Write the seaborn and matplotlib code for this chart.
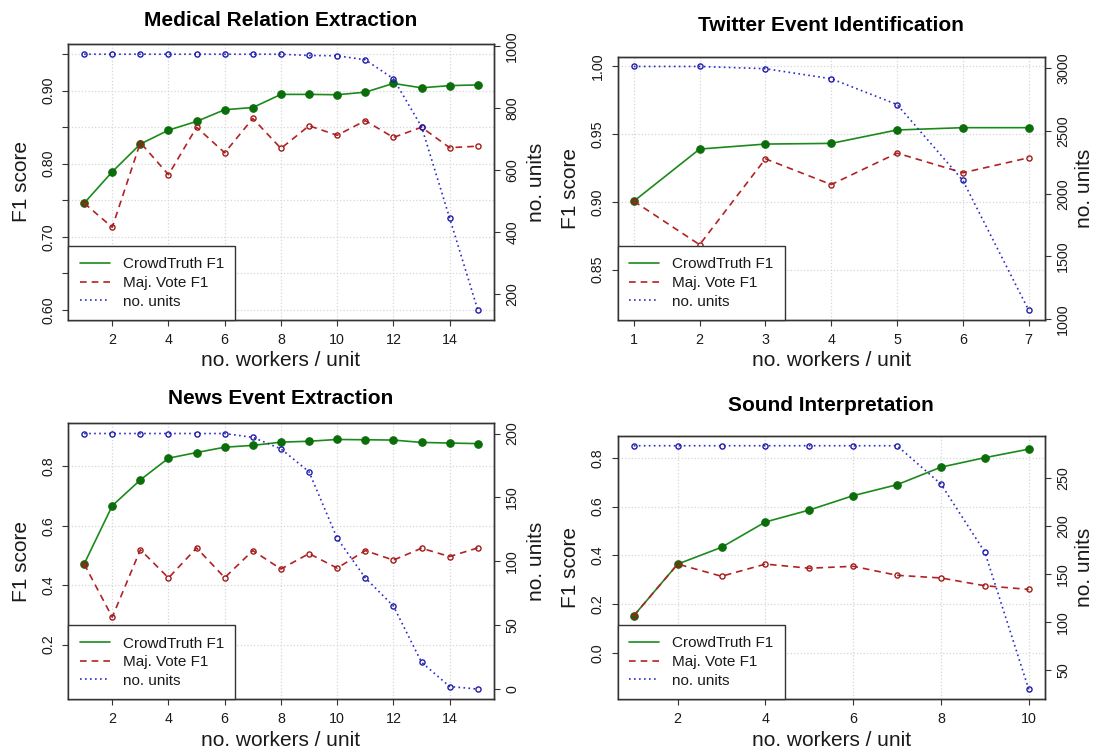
import numpy as np
import matplotlib
matplotlib.use("Agg")
import matplotlib.pyplot as plt
import seaborn as sns
from matplotlib.lines import Line2D

# ---------------- data ----------------
x_med = [1, 2, 3, 4, 5, 6, 7, 8, 9, 10, 11, 12, 13, 14, 15]
ct_med = [0.746, 0.789, 0.827, 0.846, 0.858, 0.874, 0.877, 0.895, 0.895, 0.8945, 0.898, 0.910, 0.904, 0.907, 0.908]
mv_med = [0.746, 0.713, 0.829, 0.785, 0.850, 0.815, 0.862, 0.821, 0.852, 0.839, 0.859, 0.836, 0.850, 0.822, 0.824]
units_med = [975, 975, 975, 975, 975, 975, 975, 975, 971, 970, 957, 896, 741, 446, 150]

x_tw = [1, 2, 3, 4, 5, 6, 7]
ct_tw = [0.9005, 0.939, 0.9427, 0.9432, 0.9531, 0.9548, 0.9548]
mv_tw = [0.9005, 0.8684, 0.9318, 0.9128, 0.936, 0.9215, 0.9326]
units_tw = [3013, 3013, 2995, 2915, 2710, 2105, 1072]

x_news = [1, 2, 3, 4, 5, 6, 7, 8, 9, 10, 11, 12, 13, 14, 15]
ct_news = [0.471, 0.667, 0.754, 0.827, 0.846, 0.864, 0.870, 0.881, 0.884, 0.890, 0.889, 0.888, 0.880, 0.878, 0.876]
mv_news = [0.471, 0.292, 0.519, 0.424, 0.525, 0.425, 0.516, 0.454, 0.506, 0.457, 0.516, 0.484, 0.524, 0.496, 0.525]
units_news = [200, 200, 200, 200, 200, 200, 197, 188, 170, 118, 87, 65, 21, 2, 0]

x_sound = [1, 2, 3, 4, 5, 6, 7, 8, 9, 10]
ct_sound = [0.152, 0.364, 0.433, 0.537, 0.586, 0.645, 0.690, 0.762, 0.801, 0.836]
mv_sound = [0.152, 0.364, 0.314, 0.364, 0.347, 0.355, 0.318, 0.307, 0.275, 0.260]
units_sound = [284, 284, 284, 284, 284, 284, 284, 244, 173, 30]

titles = ["Medical Relation Extraction", "Twitter Event Identification",
          "News Event Extraction", "Sound Interpretation"]
legend_labels = ["CrowdTruth F1", "Maj. Vote F1", "no. units"]
xlabel = "no. workers / unit"
ylabel_left = "F1 score"
ylabel_right = "no. units"

# ---------------- style ----------------
sns.set_style("white")
plt.rcParams["font.family"] = ["Liberation Sans", "DejaVu Sans"]

GREEN = "#1b8a1b"
GREEN_M = "#0b6e0b"
RED = "#b22222"
RED_M = "#a01c1c"
BLUE = "#2b2bc8"
BLUE_M = "#1e1ea8"
FRAME = "#333333"
TXT = "#1a1a1a"

W, H = 1095, 751
fig = plt.figure(figsize=(W / 100, H / 100), dpi=100)


def rect(l, t, r, b):
    return [l / W, 1 - b / H, (r - l) / W, (b - t) / H]


def ext(lo, hi):
    r = hi - lo
    return lo - 0.04 * r, hi + 0.04 * r


panels = [
    dict(x=x_med, ct=ct_med, mv=mv_med, un=units_med,
         box=(68.4, 44, 493.5, 320), title_y=20, r_lab=43,
         ybase=(0.60, 0.95), yticks=[0.60, 0.65, 0.70, 0.75, 0.80, 0.85, 0.90, 0.95],
         ylabs=["0.60", "", "0.70", "", "0.80", "", "0.90", ""],
         y2ticks=[200, 400, 600, 800, 1000], xticks=[2, 4, 6, 8, 10, 12, 14]),
    dict(x=x_tw, ct=ct_tw, mv=mv_tw, un=units_tw,
         box=(618.0, 56.7, 1044.5, 320), title_y=25.7, r_lab=40,
         ybase=(0.82, 1.00), yticks=[0.85, 0.90, 0.95, 1.00],
         ylabs=["0.85", "0.90", "0.95", "1.00"],
         y2ticks=[1000, 1500, 2000, 2500, 3000], xticks=[1, 2, 3, 4, 5, 6, 7]),
    dict(x=x_news, ct=ct_news, mv=mv_news, un=units_news,
         box=(68.4, 423.3, 493.5, 699.3), title_y=399, r_lab=43,
         ybase=(0.05, 0.91), yticks=[0.2, 0.4, 0.6, 0.8],
         ylabs=["0.2", "0.4", "0.6", "0.8"],
         y2ticks=[0, 50, 100, 150, 200], xticks=[2, 4, 6, 8, 10, 12, 14]),
    dict(x=x_sound, ct=ct_sound, mv=mv_sound, un=units_sound,
         box=(618.0, 436, 1044.5, 699), title_y=405.7, r_lab=40,
         ybase=(-0.15, 0.85), yticks=[0.0, 0.2, 0.4, 0.6, 0.8],
         ylabs=["0.0", "0.2", "0.4", "0.6", "0.8"],
         y2ticks=[50, 100, 150, 200, 250], xticks=[2, 4, 6, 8, 10]),
]

TICK_LEN = 4.3
TICK_FS = 10.3
LAB_FS = 15

for p, title in zip(panels, titles):
    l, t, r, b = p["box"]
    wpx, hpx = r - l, b - t
    ax = fig.add_axes(rect(l, t, r, b))
    ax2 = ax.twinx()

    sns.lineplot(x=p["x"], y=p["ct"], ax=ax, color=GREEN, linewidth=1.2,
                 marker="o", markersize=5.4, markerfacecolor=GREEN_M,
                 markeredgecolor=GREEN_M, markeredgewidth=0.8, legend=False, zorder=3)
    sns.lineplot(x=p["x"], y=p["mv"], ax=ax, color=RED, linewidth=1.2,
                 linestyle=(0, (4, 3)), marker="o", markersize=3.7,
                 markerfacecolor="none", markeredgecolor=RED_M,
                 markeredgewidth=1.0, legend=False, zorder=4)
    sns.lineplot(x=p["x"], y=p["un"], ax=ax2, color=BLUE, linewidth=1.2,
                 linestyle=(0, (1, 2)), marker="o", markersize=3.7,
                 markerfacecolor="none", markeredgecolor=BLUE_M,
                 markeredgewidth=1.0, legend=False, zorder=3)

    n = len(p["x"])
    xl = (p["x"][0] - 0.04 * (n - 1), p["x"][-1] + 0.04 * (n - 1))
    ax.set_xlim(*xl)
    ax.set_ylim(*ext(*p["ybase"]))
    ax2.set_ylim(*ext(min(p["un"]), max(p["un"])))

    ax.set_xticks(p["xticks"])
    ax.set_xticklabels([str(v) for v in p["xticks"]])
    ax.set_yticks(p["yticks"])
    ax.set_yticklabels(p["ylabs"])
    ax2.set_yticks(p["y2ticks"])
    ax2.set_yticklabels([str(v) for v in p["y2ticks"]])

    ax.grid(True, color="#d6d6d6", linestyle=":", linewidth=0.9)
    ax.set_axisbelow(True)

    ax.tick_params(axis="both", direction="out", length=TICK_LEN, width=0.8,
                   color=FRAME, labelsize=TICK_FS, labelcolor=TXT,
                   bottom=True, left=True, top=False, right=False)
    ax.tick_params(axis="x", pad=5)
    ax.tick_params(axis="y", pad=5.2)
    ax2.tick_params(axis="y", direction="out", length=TICK_LEN, width=0.8,
                    color=FRAME, labelsize=TICK_FS, labelcolor=TXT,
                    right=True, left=False, pad=4.2)
    for lab in ax.get_yticklabels():
        lab.set_rotation(90)
        lab.set_va("center")
    for lab in ax2.get_yticklabels():
        lab.set_rotation(90)
        lab.set_va("center")

    for a in (ax, ax2):
        for s in a.spines.values():
            s.set_visible(True)
            s.set_color(FRAME)
            s.set_linewidth(1.0)

    ax.set_xlabel(xlabel, fontsize=LAB_FS, color=TXT)
    ax.xaxis.label.set_va("center")
    ax.xaxis.set_label_coords(0.5, -41.0 / hpx)
    ax.set_ylabel(ylabel_left, fontsize=LAB_FS, color=TXT)
    ax.yaxis.label.set_va("center")
    ax.yaxis.set_label_coords(-47.4 / wpx, 0.5)
    ax2.set_ylabel(ylabel_right, fontsize=LAB_FS, color=TXT, rotation=90)
    ax2.yaxis.label.set_va("center")
    ax2.yaxis.set_label_coords(1 + p["r_lab"] / wpx, 0.5)

    fig.text((l + r) / 2 / W, 1 - p["title_y"] / H, title, ha="center",
             va="center", fontsize=15, fontweight="bold", color="black")

    handles = [Line2D([], [], color=GREEN, lw=1.2),
               Line2D([], [], color=RED, lw=1.2, linestyle=(0, (4, 3))),
               Line2D([], [], color=BLUE, lw=1.2, linestyle=(0, (1, 2)))]
    leg = ax2.legend(handles, legend_labels, loc="lower left",
                     bbox_to_anchor=(0, 0), borderaxespad=0, fontsize=11,
                     frameon=True, fancybox=False, edgecolor=FRAME,
                     framealpha=1, borderpad=0.75, labelspacing=0.3,
                     handlelength=1.95, handletextpad=0.85)
    leg.get_frame().set_linewidth(1.0)
    for txt in leg.get_texts():
        txt.set_color(TXT)
    leg.set_zorder(10)

fig.savefig("out.png", dpi=100)
